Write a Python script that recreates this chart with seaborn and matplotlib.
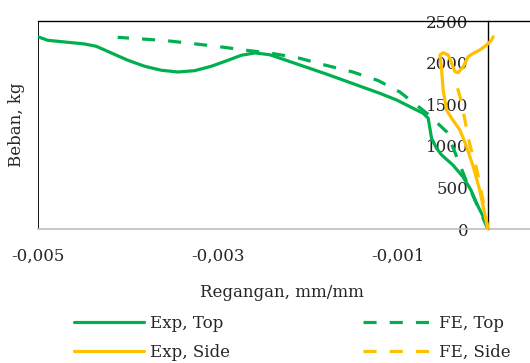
import matplotlib
matplotlib.use("Agg")
import matplotlib.pyplot as plt
import seaborn as sns
import numpy as np

# ---- data ----
exp_top_x = [-0.004978, -0.004886, -0.004663, -0.004478, -0.004348, -0.004181, -0.003997, -0.003811,
             -0.003626, -0.003441, -0.003256, -0.00307, -0.002886, -0.002737, -0.002589, -0.002422,
             -0.001811, -0.0012, -0.001014, -0.00083, -0.000719, -0.000663, -0.000644, -0.000626,
             -0.00057, -0.000514, -0.000389, -0.000278, -0.000189, -0.000126, -0.0000556, 0.0]
exp_top_y = [2304, 2268, 2244, 2224, 2196, 2116, 2028, 1956,
             1908, 1887, 1903, 1956, 2028, 2088, 2116, 2095,
             1869, 1631, 1551, 1451, 1391, 1331, 1210, 1091,
             970, 890, 769, 629, 469, 309, 156, 0]

fe_top_x = [0.0, -0.000244, -0.000456, -0.000667, -0.000978, -0.00122, -0.0015, -0.0018,
            -0.00209, -0.00239, -0.00268, -0.00298, -0.00328, -0.00358, -0.00387, -0.00411]
fe_top_y = [0, 589, 1166, 1382, 1647, 1785, 1887, 1968,
            2052, 2110, 2148, 2191, 2229, 2265, 2286, 2304]

exp_side_x = [0.0, -0.0000889, -0.000163, -0.000237, -0.000311, -0.000403, -0.000459, -0.000497,
              -0.000514, -0.000533, -0.000497, -0.000441, -0.000403, -0.000367, -0.00033, -0.000274,
              -0.000219, -0.000163, -0.0000889, -0.0000144, 0.0000411, 0.0000589]
exp_side_y = [0, 457, 749, 989, 1190, 1331, 1430, 1671,
              1911, 2091, 2119, 2091, 1992, 1891, 1879, 1951,
              2071, 2112, 2152, 2212, 2272, 2311]

fe_side_x = [0.0, -0.0000556, -0.000122, -0.0002, -0.0003, -0.000344]
fe_side_y = [0, 349, 709, 1010, 1551, 1719]

series_labels = ["Exp, Top", "FE, Top", "Exp, Side", "FE, Side"]
x_ticks = [-0.005, -0.003, -0.001]
y_ticks = [0, 500, 1000, 1500, 2000, 2500]
x_label = "Regangan, mm/mm"
y_label = "Beban, kg"

GREEN = "#00B050"
YELLOW = "#FFC000"

sns.set_style("white")
plt.rcParams["font.family"] = ["DejaVu Serif"]
plt.rcParams["font.size"] = 12

fig = plt.figure(figsize=(5.3, 3.63), dpi=100)
ax = fig.add_axes([37.5 / 530, 1 - 229 / 363, (578 - 37.5) / 530, (229 - 21) / 363])

lw = 2.3
dash = (0, (4.1, 4.1))
sns.lineplot(x=exp_top_x, y=exp_top_y, sort=False, estimator=None, color=GREEN, lw=lw,
             ax=ax, label=series_labels[0], zorder=3)
sns.lineplot(x=fe_top_x, y=fe_top_y, sort=False, estimator=None, color=GREEN, lw=lw,
             linestyle=dash, ax=ax, label=series_labels[1], zorder=3)
sns.lineplot(x=exp_side_x, y=exp_side_y, sort=False, estimator=None, color=YELLOW, lw=lw,
             ax=ax, label=series_labels[2], zorder=4)
sns.lineplot(x=fe_side_x, y=fe_side_y, sort=False, estimator=None, color=YELLOW, lw=lw,
             linestyle=dash, ax=ax, label=series_labels[3], zorder=4)

ax.set_xlim(-0.005, 0.001)
ax.set_ylim(0, 2500)
ax.set_xticks(x_ticks)
ax.set_yticks(y_ticks)
ax.set_xticklabels([f"{v:.3f}".replace(".", ",") for v in x_ticks])
ax.set_yticklabels([str(v) for v in y_ticks])
ax.tick_params(axis="both", length=0, labelsize=12)
ax.tick_params(axis="y", pad=14)
ax.tick_params(axis="x", pad=13.5)

ax.spines["left"].set_position(("data", 0))
ax.spines["left"].set_color("black")
ax.spines["left"].set_linewidth(1.0)
ax.spines["top"].set_color("black")
ax.spines["top"].set_linewidth(1.0)
ax.spines["bottom"].set_color("#BFBFBF")
ax.spines["bottom"].set_linewidth(1.2)
ax.spines["right"].set_visible(False)
ax.axvline(x_ticks[0], color="black", lw=1.3, zorder=2)

ax.set_xlabel(x_label, fontsize=12)
ax.set_ylabel(y_label, fontsize=12)
ax.yaxis.set_label_coords(-0.024, 0.5)
ax.xaxis.set_label_coords((282 - 37.5) / (578 - 37.5), -0.265)

handles, labels = ax.get_legend_handles_labels()
ax.get_legend().remove()
order = [0, 2, 1, 3]
fig.legend([handles[i] for i in order], [labels[i] for i in order],
           loc="upper left", bbox_to_anchor=(74 / 530, 1 - 315 / 363), ncol=2,
           frameon=False, borderpad=0, borderaxespad=0, handlelength=4.2,
           handletextpad=0.36, columnspacing=8.0, labelspacing=0.7, fontsize=12)

fig.savefig("out.png", dpi=100)
